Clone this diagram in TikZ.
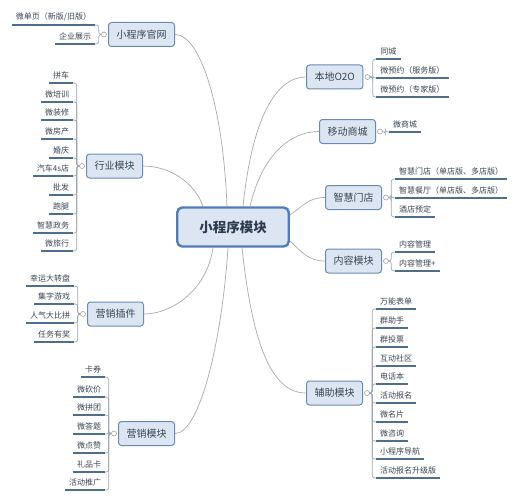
\documentclass[tikz,border=0pt]{standalone}
\usepackage{fontspec}
\setmainfont{Noto Sans CJK SC}
\usetikzlibrary{backgrounds}
\definecolor{boxfill}{HTML}{DCE6F2}
\definecolor{boxline}{HTML}{6A8BB3}
\definecolor{coreline}{HTML}{4F7DB8}
\definecolor{txt}{HTML}{3B4654}
\definecolor{coretxt}{HTML}{2E3B4E}
\definecolor{ulcol}{HTML}{4F6E8E}
\definecolor{linkcol}{HTML}{ABABAB}
\definecolor{bracecol}{HTML}{9DA8B4}
\definecolor{knobline}{HTML}{A0A0A0}
\tikzset{
  hub/.style={draw=boxline, fill=boxfill, line width=1pt, rounded corners=3pt,
    minimum height=24pt, inner xsep=8pt, font=\fontsize{10}{12}\selectfont, text=txt},
  core/.style={draw=coreline, fill=boxfill, line width=2.4pt, rounded corners=5pt,
    minimum height=39pt, inner xsep=22pt, font=\bfseries\fontsize{13.5}{16}\selectfont, text=coretxt},
  knob/.style={circle, draw=knobline, fill=white, line width=0.6pt, minimum size=5pt, inner sep=0pt},
  leaf/.style={inner xsep=4pt, inner ysep=3.5pt, font=\fontsize{8}{9}\selectfont, text=txt},
  uline/.style={draw=ulcol, line width=1.2pt},
  mainlink/.style={draw=linkcol, line width=0.7pt},
  brace/.style={draw=bracecol, line width=0.7pt, rounded corners=2.5pt},
}
\newcommand\leafL[4]{%
  \path (#4.west) ++(-6pt,0) coordinate (#1x);
  \node[leaf,anchor=south east] (#1) at (#1x |- 0,#2) {#3};
  \draw[uline] (#1.south west) -- (#1.south east);
  \draw[brace] (#4.west) -- ++(-2.5pt,0) |- (#1.south east);
}
\newcommand\leafR[4]{%
  \path (#4.east) ++(6pt,0) coordinate (#1x);
  \node[leaf,anchor=south west] (#1) at (#1x |- 0,#2) {#3};
  \draw[uline] (#1.south west) -- (#1.south east);
  \draw[brace] (#4.east) -- ++(2.5pt,0) |- (#1.south west);
}
\begin{document}
\begin{tikzpicture}[x=1pt,y=-1pt]
\useasboundingbox (0,0) rectangle (518,500);

% central and main branches
\node[core] (c) at (233,227) {小程序模块};
\node[hub,anchor=east] (gw) at (175,34.5) {小程序官网};
\node[hub,anchor=east] (hy) at (143,166) {行业模块};
\node[hub,anchor=east] (cj) at (144,314) {营销插件};
\node[hub,anchor=east] (yx) at (175,433.5) {营销模块};
\node[hub,anchor=west] (bd) at (306,77) {本地O2O};
\node[hub,anchor=west] (sc) at (319,131.5) {移动商城};
\node[hub,anchor=west] (md) at (325,197.5) {智慧门店};
\node[hub,anchor=west] (nr) at (325,261) {内容模块};
\node[hub,anchor=west] (fz) at (306,393) {辅助模块};

% knobs
\node[knob] (kgw) at ([xshift=-4pt]gw.west) {};
\node[knob] (khy) at ([xshift=-4pt]hy.west) {};
\node[knob] (kcj) at ([xshift=-4pt]cj.west) {};
\node[knob] (kyx) at ([xshift=-4pt]yx.west) {};
\node[knob] (kbd) at ([xshift=4pt]bd.east) {};
\node[knob] (ksc) at ([xshift=4pt]sc.east) {};
\node[knob] (kmd) at ([xshift=4pt]md.east) {};
\node[knob] (knr) at ([xshift=4pt]nr.east) {};
\node[knob] (kfz) at ([xshift=4pt]fz.east) {};

% leaves: 小程序官网
\leafL{gwa}{25}{微单页（新版/旧版）}{kgw}
\leafL{gwb}{44}{企业展示}{kgw}
% 行业模块
\leafL{hya}{83}{拼车}{khy}
\leafL{hyb}{102}{微培训}{khy}
\leafL{hyc}{120}{微装修}{khy}
\leafL{hyd}{139}{微房产}{khy}
\leafL{hye}{158}{婚庆}{khy}
\leafL{hyf}{176}{汽车4s店}{khy}
\leafL{hyg}{195}{批发}{khy}
\leafL{hyh}{214}{跑腿}{khy}
\leafL{hyi}{233}{智慧政务}{khy}
\leafL{hyj}{251}{微旅行}{khy}
% 营销插件
\leafL{cja}{286}{幸运大转盘}{kcj}
\leafL{cjb}{304}{集字游戏}{kcj}
\leafL{cjc}{323}{人气大比拼}{kcj}
\leafL{cjd}{342}{任务有奖}{kcj}
% 营销模块
\leafL{yxa}{377}{卡券}{kyx}
\leafL{yxb}{397}{微砍价}{kyx}
\leafL{yxc}{415}{微拼团}{kyx}
\leafL{yxd}{434}{微答题}{kyx}
\leafL{yxe}{453}{微点赞}{kyx}
\leafL{yxf}{472}{礼品卡}{kyx}
\leafL{yxg}{490}{活动推广}{kyx}
% 本地O2O
\leafR{bda}{59}{同城}{kbd}
\leafR{bdb}{78}{微预约（服务版）}{kbd}
\leafR{bdc}{97}{微预约（专家版）}{kbd}
% 移动商城
\leafR{sca}{132}{微商城}{ksc}
% 智慧门店
\leafR{mda}{179}{智慧门店（单店版、多店版）}{kmd}
\leafR{mdb}{198}{智慧餐厅（单店版、多店版）}{kmd}
\leafR{mdc}{217}{酒店预定}{kmd}
% 内容模块
\leafR{nra}{252}{内容管理}{knr}
\leafR{nrb}{271}{内容管理+}{knr}
% 辅助模块
\leafR{fza}{309}{万能表单}{kfz}
\leafR{fzb}{328}{群助手}{kfz}
\leafR{fzc}{347}{群投票}{kfz}
\leafR{fzd}{366}{互动社区}{kfz}
\leafR{fze}{384}{电话本}{kfz}
\leafR{fzf}{403}{活动报名}{kfz}
\leafR{fzg}{422}{微名片}{kfz}
\leafR{fzh}{441}{微咨询}{kfz}
\leafR{fzi}{459}{小程序导航}{kfz}
\leafR{fzj}{478}{活动报名升级版}{kfz}

\begin{scope}[on background layer]
\fill[white] (0,0) rectangle (518,500);
\draw[mainlink] ([xshift=-6pt]c.north) .. controls (223,105) and (200,34.5) .. (gw.east);
\draw[mainlink] ([xshift=-30pt]c.north) .. controls (195,183) and (170,166) .. (hy.east);
\draw[mainlink] ([xshift=-20pt]c.south) .. controls (207,290) and (172,314) .. (cj.east);
\draw[mainlink] ([xshift=-5pt]c.south) .. controls (222,340) and (200,433.5) .. (yx.east);
\draw[mainlink] ([xshift=9pt]c.south) .. controls (252,340) and (270,393) .. (fz.west);
\draw[mainlink] ([xshift=10pt]c.north) .. controls (252,120) and (275,77) .. (bd.west);
\draw[mainlink] ([xshift=17pt]c.north) .. controls (262,155) and (290,131.5) .. (sc.west);
\draw[mainlink] ([yshift=12pt]c.east) .. controls (302,207) and (308,197.5) .. (md.west);
\draw[mainlink] ([yshift=-14pt]c.east) .. controls (302,252) and (308,261) .. (nr.west);
\end{scope}
\end{tikzpicture}
\end{document}
